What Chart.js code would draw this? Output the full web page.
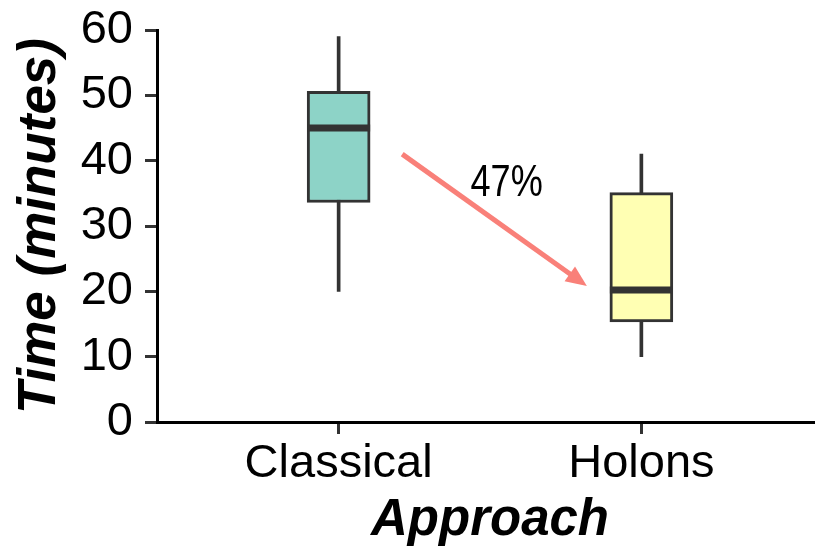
<!DOCTYPE html>
<html>
<head>
<meta charset="utf-8">
<script src="https://cdn.jsdelivr.net/npm/chart.js@4/dist/chart.umd.min.js"></script>
<style>
  html, body { margin: 0; padding: 0; background: #fff; overflow: hidden; }
  #wrap { width: 840px; height: 546px; }
</style>
</head>
<body>
<div id="wrap"><canvas id="boxChart" width="840" height="546"></canvas></div>
<script>
// box plot summary
var categories = ['Classical', 'Holons'];
var whiskerLow = [20, 10];
var q1 = [33.6, 15.3];
var median = [45, 20.2];
var q3 = [50.6, 35.1];
var whiskerHigh = [59, 41];
var boxColors = ['#8dd3c7', '#ffffb3'];
var yTicks = [0, 10, 20, 30, 40, 50, 60];

// annotation: arrow from Classical to Holons, in data units
var arrowFrom = [1.21, 41];
var arrowTo = [1.82, 20.8];
var arrowLabel = '47%';
var labelAt = [1.555, 36.4];

var ink = '#333333';
var sans = '"Liberation Sans", Arial, sans-serif';

var catPos = categories.map(function (c, i) { return i + 1; });

var arrowPlugin = {
    id: 'arrowNote',
    afterDatasetsDraw: function (chart) {
        var ctx = chart.ctx;
        var xs = chart.scales.x, ys = chart.scales.y;
        var x0 = xs.getPixelForValue(arrowFrom[0]), y0 = ys.getPixelForValue(arrowFrom[1]);
        var x1 = xs.getPixelForValue(arrowTo[0]), y1 = ys.getPixelForValue(arrowTo[1]);
        var ang = Math.atan2(y1 - y0, x1 - x0);
        var headLen = 21, headHalf = 9;
        ctx.save();
        ctx.strokeStyle = '#f98079';
        ctx.fillStyle = '#f98079';
        ctx.lineWidth = 5;
        ctx.beginPath();
        ctx.moveTo(x0, y0);
        ctx.lineTo(x1 - Math.cos(ang) * headLen * 0.8, y1 - Math.sin(ang) * headLen * 0.8);
        ctx.stroke();
        ctx.beginPath();
        ctx.moveTo(x1, y1);
        ctx.lineTo(x1 - Math.cos(ang) * headLen - Math.sin(ang) * headHalf, y1 - Math.sin(ang) * headLen + Math.cos(ang) * headHalf);
        ctx.lineTo(x1 - Math.cos(ang) * headLen + Math.sin(ang) * headHalf, y1 - Math.sin(ang) * headLen - Math.cos(ang) * headHalf);
        ctx.closePath();
        ctx.fill();

        // condensed label
        ctx.fillStyle = '#000';
        ctx.font = '44px "Liberation Sans", sans-serif';
        ctx.textAlign = 'center';
        ctx.textBaseline = 'middle';
        ctx.translate(xs.getPixelForValue(labelAt[0]), ys.getPixelForValue(labelAt[1]));
        ctx.scale(0.82, 1);
        ctx.fillText(arrowLabel, 0, 0);
        ctx.restore();
    }
};

var config = {
    type: 'bar',
    data: {
        datasets: [
            {
                // whiskers
                type: 'bar',
                data: catPos.map(function (x, i) { return { x: x, y: [whiskerLow[i], whiskerHigh[i]] }; }),
                backgroundColor: ink,
                borderWidth: 0,
                barThickness: 3,
                grouped: false,
                order: 3
            },
            {
                // boxes
                type: 'bar',
                data: catPos.map(function (x, i) { return { x: x, y: [q1[i], q3[i]] }; }),
                backgroundColor: boxColors,
                borderColor: ink,
                borderWidth: 3,
                borderSkipped: false,
                barThickness: 63,
                grouped: false,
                order: 2
            },
            {
                // medians
                type: 'scatter',
                data: catPos.map(function (x, i) { return { x: x, y: median[i] }; }),
                pointStyle: 'line',
                pointRadius: 31.5,
                pointHoverRadius: 31.5,
                pointBorderWidth: 7,
                pointBorderColor: ink,
                pointBackgroundColor: ink,
                order: 1
            }
        ]
    },
    options: {
        responsive: false,
        animation: false,
        events: [],
        layout: {
            padding: { left: 0, right: 17, top: 30, bottom: 0 }
        },
        plugins: {
            legend: { display: false },
            tooltip: { enabled: false }
        },
        scales: {
            x: {
                type: 'linear',
                min: 0.4,
                max: 2.6,
                offset: false,
                afterBuildTicks: function (scale) {
                    scale.ticks = catPos.map(function (v) { return { value: v }; });
                },
                afterFit: function (scale) { scale.height = 124; },
                grid: {
                    display: true,
                    offset: false,
                    drawOnChartArea: false,
                    drawTicks: true,
                    tickLength: 12,
                    tickWidth: 3,
                    tickColor: ink
                },
                border: { display: true, color: '#000', width: 3 },
                ticks: {
                    color: '#000',
                    padding: 2,
                    maxRotation: 0,
                    autoSkip: false,
                    font: { family: sans, size: 47, lineHeight: 1.2 },
                    callback: function (v) { return categories[v - 1]; }
                },
                title: {
                    display: true,
                    text: 'Approach',
                    color: '#000',
                    padding: { top: 0, bottom: -6 },
                    font: { family: sans, size: 51, weight: 'bold', style: 'italic', lineHeight: 1.2 }
                }
            },
            y: {
                min: 0,
                max: 60,
                afterBuildTicks: function (scale) {
                    scale.ticks = yTicks.map(function (v) { return { value: v }; });
                },
                afterFit: function (scale) { scale.width = 157; },
                grid: {
                    display: true,
                    drawOnChartArea: false,
                    drawTicks: true,
                    tickLength: 12,
                    tickWidth: 3,
                    tickColor: ink
                },
                border: { display: true, color: '#000', width: 3 },
                ticks: {
                    color: '#000',
                    padding: 12,
                    // small lineHeight keeps the "60" label from pushing the plot down
                    font: { family: sans, size: 47, lineHeight: 0.5 }
                },
                title: {
                    display: true,
                    text: 'Time (minutes)',
                    color: '#000',
                    padding: { top: 9, bottom: 0 },
                    font: { family: sans, size: 53, weight: 'bold', style: 'italic', lineHeight: 1.2 }
                }
            }
        }
    },
    plugins: [arrowPlugin]
};

var ctx = document.getElementById('boxChart').getContext('2d');
var boxChart = new Chart(ctx, config);
// the median markers are wide points; don't let them add layout padding
boxChart.getDatasetMeta(2).controller.getMaxOverflow = function () { return false; };
boxChart.update();
</script>
</body>
</html>
